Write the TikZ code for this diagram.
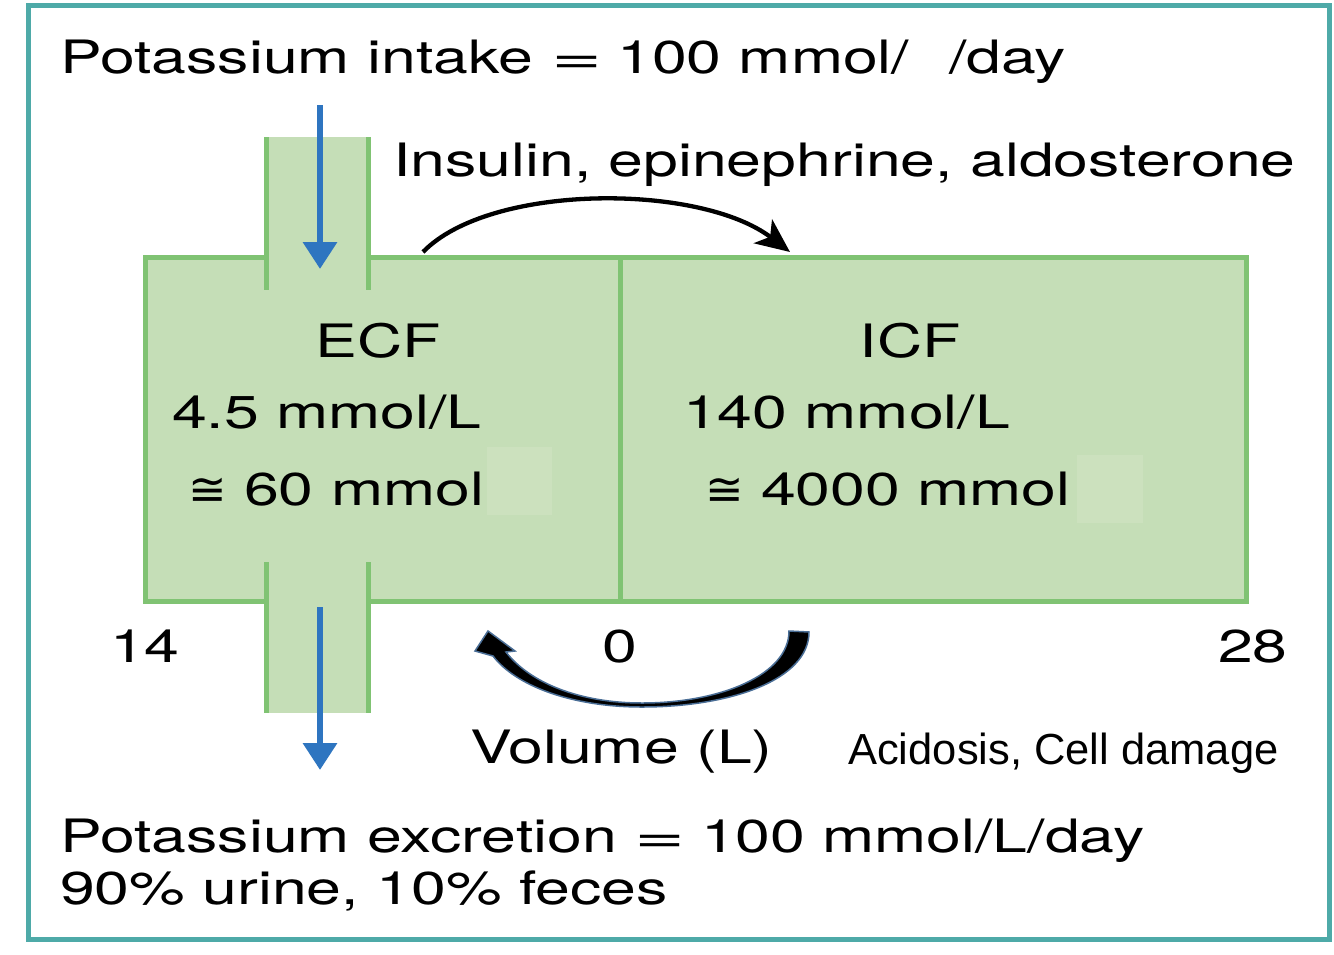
\documentclass[tikz,border=0pt]{standalone}
\usepackage{graphicx}
\usepackage{fontspec}
\setmainfont[FakeStretch=1.36]{TeX Gyre Heros}
\newfontfamily\arialf{Liberation Sans}
\newfontfamily\symf{DejaVu Sans}
\usetikzlibrary{arrows.meta}
\definecolor{tealb}{RGB}{78,170,168}
\definecolor{gfill}{RGB}{197,222,183}
\definecolor{gline}{RGB}{128,195,115}
\definecolor{kblue}{RGB}{46,117,192}
\definecolor{sqc}{RGB}{204,225,190}
\definecolor{edgeb}{RGB}{74,110,150}
\newcommand{\wideeq}{\hspace{18pt}\scalebox{1.4}[1]{=}\hspace{15pt}}
\begin{document}
\begin{tikzpicture}[x=1pt,y=-1pt,
  txt/.style={inner sep=0pt, anchor=base west, font=\fontsize{46}{50}\selectfont},
  ctxt/.style={inner sep=0pt, anchor=base, font=\fontsize{46}{50}\selectfont},
  wall/.style={draw=gline, line width=5pt},
  bluearrow/.style={draw=kblue, line width=6.5pt, -{Triangle[length=27pt,width=33pt]}},
  blackarrow/.style={draw=black, line width=4.3pt, -{Stealth[length=34pt,width=30pt,inset=9pt]}}
]
\useasboundingbox (0,0) rectangle (1334,954);
\fill[white] (0,0) rectangle (1334,954);
\draw[tealb, line width=5pt] (28,5) rectangle (1329,939);

% fills
\fill[gfill] (145,257) rectangle (1246,601);
\fill[gfill] (266,137) rectangle (368,290);
\fill[gfill] (266,562) rectangle (368,713);
\fill[sqc] (487,447) rectangle (552,515);
\fill[sqc] (1077,455) rectangle (1143,523);

% outlines
\draw[wall] (266,257) -- (145,257) -- (145,601) -- (266,601);
\draw[wall] (368,257) -- (1246,257) -- (1246,601) -- (368,601);
\draw[wall] (620,257) -- (620,601);
\draw[wall] (266,137) -- (266,290);
\draw[wall] (368,137) -- (368,290);
\draw[wall] (266,562) -- (266,713);
\draw[wall] (368,562) -- (368,713);

% blue arrows
\coordinate (inA) at (320,105);
\coordinate (inB) at (320,269);
\coordinate (outA) at (320,607);
\coordinate (outB) at (320,770);
\draw[bluearrow] (inA) -- (inB);
\draw[bluearrow] (outA) -- (outB);

% top curved arrow
\coordinate (tA) at (423,252);
\coordinate (tB) at (790,252);
\draw[blackarrow] (tA) .. controls (490,183) and (700,183) .. (tB);

% bottom curved arrow (filled)
\filldraw[fill=black, draw=edgeb, line width=1.5pt]
  (809,632) .. controls (809,680) and (730,707) .. (642,707)
  .. controls (570,707) and (515,685) .. (493,656)
  -- (475,651) -- (488,631) -- (515,651) -- (506,652)
  .. controls (530,683) and (580,703) .. (642,703)
  .. controls (720,703) and (789,675) .. (789,631) -- cycle;

% texts
\node[txt] (intake) at (60,73) {Potassium intake\wideeq100 mmol/\hspace{40pt}/day};
\node[txt] (horm) at (393,176) {Insulin, epinephrine, aldosterone};
\node[ctxt] (ecf) at (378,357) {ECF};
\node[ctxt] (icf) at (910,357) {ICF};
\node[txt] (ecfc) at (172,428) {4.5 mmol/L};
\node[txt] (ecfa) at (188,505) {{\symf ≅} 60 mmol};
\node[txt] (icfc) at (683,428) {140 mmol/L};
\node[txt] (icfa) at (705,505) {{\symf ≅} 4000 mmol};
\node[txt] (v14) at (110,662) {14};
\node[ctxt] (v0) at (620,662) {0};
\node[txt] (v28) at (1218,662) {28};
\node[txt] (vol) at (470,763) {Volume (L)};
\node[inner sep=0pt, anchor=base west, font=\arialf\fontsize{43.5}{46}\selectfont] (acid) at (848,764) {Acidosis, Cell damage};
\node[txt] (excr) at (60,852) {Potassium excretion\wideeq100 mmol/L/day};
\node[txt] (urine) at (60,904) {90\% urine, 10\% feces};
\end{tikzpicture}
\end{document}
